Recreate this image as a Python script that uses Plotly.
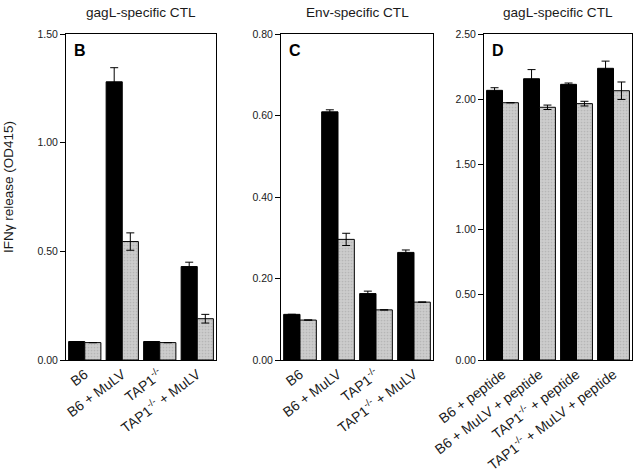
import plotly.graph_objects as go

# ---- data ----
cats_bc = ["B6", "B6 + MuLV", "TAP1<sup>-/-</sup>", "TAP1<sup>-/-</sup> + MuLV"]
cats_d = ["B6 + peptide", "B6 + MuLV + peptide", "TAP1<sup>-/-</sup> + peptide",
          "TAP1<sup>-/-</sup> + MuLV + peptide"]

b_black = [0.085, 1.28, 0.085, 0.43]
b_black_err = [0.0, 0.065, 0.0, 0.02]
b_gray = [0.08, 0.545, 0.08, 0.19]
b_gray_err = [0.0, 0.04, 0.0, 0.02]

c_black = [0.112, 0.609, 0.163, 0.264]
c_black_err = [0.0, 0.005, 0.006, 0.006]
c_gray = [0.098, 0.296, 0.123, 0.142]
c_gray_err = [0.0, 0.015, 0.0, 0.0]

d_black = [2.068, 2.157, 2.114, 2.237]
d_black_err = [0.02, 0.07, 0.01, 0.055]
d_gray = [1.973, 1.938, 1.966, 2.065]
d_gray_err = [0.0, 0.017, 0.018, 0.067]

titles = ["gagL-specific CTL", "Env-specific CTL", "gagL-specific CTL"]
letters = ["B", "C", "D"]
y_ranges = [1.5, 0.8, 2.5]
y_ticks = [[0, 0.5, 1.0, 1.5], [0, 0.2, 0.4, 0.6, 0.8], [0, 0.5, 1.0, 1.5, 2.0, 2.5]]
y_title = "IFNγ release (OD415)"

W, H = 640, 475
x_doms = [[66 / W, 216 / W], [281 / W, 433 / W], [484 / W, 632 / W]]
y_dom = [(H - 360) / H, (H - 34) / H]

BLACK = "#000000"
GRAY = "#cccccc"
TXT = "#1a1a1a"
FONT = "Liberation Sans, Arial, sans-serif"

fig = go.Figure()

panels = [
    (cats_bc, b_black, b_black_err, b_gray, b_gray_err),
    (cats_bc, c_black, c_black_err, c_gray, c_gray_err),
    (cats_d, d_black, d_black_err, d_gray, d_gray_err),
]

for i, (cats, bk, bke, gr, gre) in enumerate(panels):
    suf = "" if i == 0 else str(i + 1)
    fig.add_trace(go.Bar(
        x=cats, y=bk, xaxis="x" + suf, yaxis="y" + suf, offsetgroup="a",
        marker=dict(color=BLACK, line=dict(color=BLACK, width=1)),
        error_y=dict(type="data", array=bke, color=BLACK, thickness=1, width=4,
                     visible=True),
        showlegend=False))
    fig.add_trace(go.Bar(
        x=cats, y=gr, xaxis="x" + suf, yaxis="y" + suf, offsetgroup="b",
        marker=dict(color=GRAY, line=dict(color=BLACK, width=1),
                    pattern=dict(shape=".", fgcolor="#a0a0a0", bgcolor=GRAY,
                                 size=3, solidity=0.25)),
        error_y=dict(type="data", array=gre, color=BLACK, thickness=1, width=4,
                     visible=True),
        showlegend=False))

    xa = dict(domain=x_doms[i], anchor="y" + suf, type="category",
              showline=True, linecolor=BLACK, linewidth=1, mirror=True,
              ticks="", tickangle=-37, showgrid=False, automargin=False,
              tickfont=dict(family=FONT, size=14, color=TXT))
    ya = dict(domain=y_dom, anchor="x" + suf, range=[0, y_ranges[i]],
              tickvals=y_ticks[i], tickformat=".2f", automargin=False,
              showline=True, linecolor=BLACK, linewidth=1, mirror=True,
              ticks="outside", ticklen=5, tickcolor=BLACK, showgrid=False,
              zeroline=False,
              tickfont=dict(family=FONT, size=10.5, color=TXT))
    fig.layout["xaxis" + suf] = xa
    fig.layout["yaxis" + suf] = ya

    cx = (x_doms[i][0] + x_doms[i][1]) / 2
    fig.add_annotation(text=titles[i], x=cx, y=(H - 12) / H, xref="paper",
                       yref="paper", showarrow=False, xanchor="center",
                       yanchor="middle",
                       font=dict(family=FONT, size=13.6, color=TXT))
    fig.add_annotation(text="<b>" + letters[i] + "</b>", x=x_doms[i][0] + 6 / W,
                       y=(H - 40) / H, xref="paper", yref="paper",
                       showarrow=False, xanchor="left", yanchor="top",
                       font=dict(family=FONT, size=16, color=BLACK))

# y-axis title as rotated text
fig.add_annotation(text=y_title, x=9 / W, y=(H - 187) / H, xref="paper",
                   yref="paper", showarrow=False, textangle=-90,
                   xanchor="center", yanchor="middle",
                   font=dict(family=FONT, size=13.5, color=TXT))

fig.update_layout(
    width=W, height=H, margin=dict(l=0, r=0, t=0, b=0),
    paper_bgcolor="white", plot_bgcolor="white",
    barmode="group", bargap=0.14, bargroupgap=0,
)

fig.write_html("out.html", config={"displayModeBar": False},
               post_script="document.body.style.margin='0';"
                           "document.body.style.padding='0';")
